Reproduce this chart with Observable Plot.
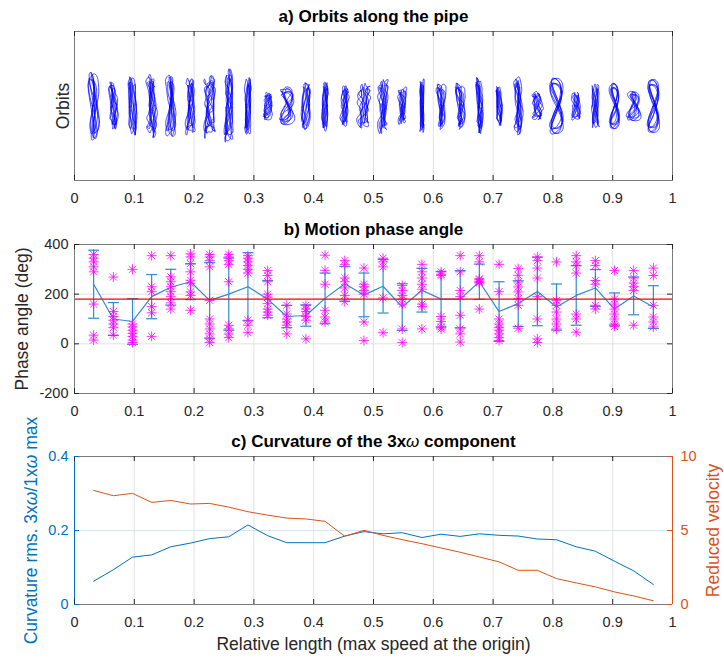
<!DOCTYPE html>
<html>
<head>
<meta charset="utf-8">
<script src="https://cdn.jsdelivr.net/npm/d3@7"></script>
<script src="https://cdn.jsdelivr.net/npm/@observablehq/plot@0.6"></script>
<style>
  body { margin: 0; background: #fff; }
  #chart { position: relative; width: 724px; height: 659px; background: #fff; }
  #chart svg { position: absolute; left: 0; }
</style>
</head>
<body>
<div id="chart"></div>
<script>
// ---- measurement stations along the pipe (relative length) ----
const stations = [0.032, 0.065, 0.097, 0.129, 0.161, 0.194, 0.226, 0.258, 0.290, 0.323,
                  0.355, 0.387, 0.419, 0.452, 0.484, 0.516, 0.548, 0.581, 0.613, 0.645,
                  0.677, 0.710, 0.742, 0.774, 0.806, 0.839, 0.871, 0.903, 0.935, 0.968];
const xTicks = [0, 0.1, 0.2, 0.3, 0.4, 0.5, 0.6, 0.7, 0.8, 0.9, 1];

// ---- a) orbit envelope per station ----
const orbitHalfHeight = [0.46, 0.33, 0.40, 0.44, 0.42, 0.40, 0.44, 0.51, 0.39, 0.19,
                         0.26, 0.33, 0.34, 0.28, 0.31, 0.38, 0.26, 0.38, 0.32, 0.32,
                         0.39, 0.27, 0.40, 0.20, 0.38, 0.19, 0.30, 0.31, 0.20, 0.36];
const orbitHalfWidth = [0.0106, 0.0084, 0.0075, 0.0100, 0.0100, 0.0100, 0.0125, 0.0109, 0.0059, 0.0109,
                        0.0159, 0.0092, 0.0059, 0.0084, 0.0125, 0.0100, 0.0084, 0.0042, 0.0100, 0.0109,
                        0.0075, 0.0059, 0.0092, 0.0117, 0.0125, 0.0100, 0.0067, 0.0100, 0.0142, 0.0109];
const orbitPinch = [0.5, 0.2, 0.0, 0.2, 0.5, 0.3, 0.1, 0.3, 0.0, 0.3,
                    0.7, 0.1, 0.0, 0.2, 0.1, 0.2, 0.2, 0.0, 0.5, 0.5,
                    0.4, 0.1, 0.5, 0.2, 0.9, 0.3, 0.0, 0.8, 0.6, 0.9];
const orbitRough = [0.2, 0.6, 0.3, 0.7, 0.2, 0.5, 0.9, 0.7, 0.4, 0.6,
                    0.4, 0.4, 0.5, 0.6, 0.7, 0.7, 0.6, 0.6, 0.5, 0.6,
                    0.6, 0.4, 0.5, 0.7, 0.1, 0.3, 0.3, 0.2, 0.2, 0.1];

// ---- b) motion phase angle (deg) ----
const phaseTicks = [-200, 0, 200, 400];
const phaseRef = 180;
const phaseMean = [240, 100, 90, 190, 228, 250, 175, 200, 230, 180,
                   110, 114, 183, 242, 197, 232, 148, 216, 180, 180,
                   250, 130, 162, 211, 148, 195, 225, 140, 193, 148];
const phaseStd = [137, 66, 92, 89, 72, 72, 152, 145, 137, 75,
                  45, 43, 102, 70, 88, 108, 94, 88, 112, 115,
                  71, 120, 92, 138, 93, 120, 74, 65, 76, 86];
const phaseSamples = [
  [360, 345, 330, 310, 290, 160, 35, 15],
  [269, 130, 110, 95, 80, 65, 35],
  [300, 80, 68, 55, 42, 30, 15, 5],
  [355, 230, 210, 150, 125, 30],
  [355, 270, 250, 230, 210, 190, 165, 140],
  [362, 350, 323, 290, 256, 242, 209, 195, 135],
  [360, 350, 335, 310, 175, 100, 80, 60, 40, 20, 5],
  [360, 350, 335, 320, 250, 75, 60, 40, 25],
  [355, 345, 330, 315, 300, 285, 95, 75, 45],
  [295, 275, 250, 200, 188, 162, 140, 128, 115],
  [155, 120, 100, 88, 75, 40],
  [155, 140, 130, 110, 95, 20],
  [357, 296, 240, 135, 108, 88],
  [335, 320, 265, 250, 225, 195, 170],
  [305, 240, 230, 215, 200, 88, 13],
  [345, 330, 310, 185, 45],
  [235, 215, 195, 180, 160, 60, 5],
  [320, 290, 265, 240, 220, 160, 150, 60],
  [290, 280, 275, 110, 90, 67, 60],
  [355, 290, 215, 190, 115, 60, 40, 7],
  [355, 330, 262, 258, 252, 248, 245, 140],
  [320, 210, 100, 80, 65, 55, 40, 25, 13],
  [303, 276, 249, 229, 209, 182, 155, 63],
  [350, 335, 305, 265, 190, 100, 20, 5],
  [330, 175, 155, 128, 100, 80, 60],
  [355, 330, 315, 285, 120, 100, 47],
  [335, 315, 255, 240, 155, 140],
  [295, 180, 160, 140, 120, 100, 80, 70],
  [295, 265, 245, 230, 215, 75],
  [305, 275, 155, 108, 88, 68]
];

// ---- c) curvature of the 3xω component and reduced velocity ----
const curvTicks = [0, 0.2, 0.4];
const velTicks = [0, 5, 10];
const curvature = [0.063, 0.094, 0.128, 0.134, 0.156, 0.166, 0.178, 0.183, 0.215, 0.186,
                   0.167, 0.167, 0.167, 0.185, 0.197, 0.191, 0.194, 0.181, 0.190, 0.184,
                   0.191, 0.187, 0.185, 0.177, 0.175, 0.156, 0.144, 0.117, 0.091, 0.054];
const reducedVelocity = [7.71, 7.35, 7.51, 6.90, 7.03, 6.79, 6.83, 6.58, 6.27, 6.04,
                         5.84, 5.78, 5.62, 4.61, 5.01, 4.67, 4.38, 4.11, 3.82, 3.53,
                         3.21, 2.88, 2.31, 2.31, 1.75, 1.46, 1.19, 0.85, 0.58, 0.25];

// ---- layout & styling ----
const W = 724, ML = 74, MR = 52, PW = W - ML - MR;
const FONT = "'Liberation Sans', Arial, Helvetica, sans-serif";
const ink = "#262626", frameGray = "#7a7a7a", gridGray = "#e2e2e2";
const blue = "#0072BD", orange = "#D95319", errBlue = "#2f8bd0";
const style = {fontFamily: FONT, fontSize: "14.5px", background: "transparent", overflow: "visible"};
const fmt = d => (d < 0 ? "-" : "") + String(+Math.abs(d).toFixed(2));

// eight-armed asterisk marker and a flat error-bar cap
const asterisk = {draw(ctx, size) {
  const r = Math.sqrt(size / Math.PI);
  for (const a of [0, Math.PI / 4, Math.PI / 2, 3 * Math.PI / 4]) {
    const c = Math.cos(a) * r, s = Math.sin(a) * r;
    ctx.moveTo(c, s); ctx.lineTo(-c, -s);
  }
}};
const cap = {draw(ctx, size) {
  const r = Math.sqrt(size / Math.PI);
  ctx.moveTo(-r, 0); ctx.lineTo(r, 0);
}};

// inward tick marks on the frame edges
function ticksX(values, h, color) {
  return [
    Plot.ruleX(values, {x: d => d, insetTop: h - 5, stroke: color}),
    Plot.ruleX(values, {x: d => d, insetBottom: h - 5, stroke: color})
  ];
}
function ticksYLeft(values, color) {
  return Plot.ruleY(values, {y: d => d, insetRight: PW - 5, stroke: color});
}
function ticksYRight(values, color) {
  return Plot.ruleY(values, {y: d => d, insetLeft: PW - 5, stroke: color});
}
const title = (s) => Plot.text([s], {frameAnchor: "top", lineAnchor: "middle", dy: -15, fontWeight: "bold", fontSize: 17, fill: "#000"});
const ylabel = (s, side, dx, color) => Plot.text([s], {frameAnchor: side, textAnchor: "middle", lineAnchor: "middle", dx, rotate: -90, fontSize: 17.5, fill: color});

// traced orbit loops around each station
function traceOrbit(i) {
  const cx = stations[i], hw = orbitHalfWidth[i], hh = orbitHalfHeight[i];
  const f = orbitPinch[i], r = orbitRough[i];
  const rows = [];
  for (let j = 0; j < 6; j++) {
    const sx = 1 - 0.12 * (j % 3), sy = 1 - 0.09 * ((j * 2) % 4), ph = 0.7 * j + 0.3 * i;
    for (let n = 0; n <= 120; n++) {
      const t = n / 120 * 2 * Math.PI;
      const bx = (1 - f) * Math.cos(t + ph) + f * Math.sin(2 * t + 0.15 * j);
      const nx = r * (0.35 * Math.sin(4 * t + 1.3 * j + i) + 0.22 * Math.sin(7 * t + 2.1 * j + 0.7 * i));
      const ny = r * (0.14 * Math.sin(3 * t + 0.8 * j + i) + 0.08 * Math.sin(6 * t + 1.7 * j));
      rows.push({
        id: i * 10 + j,
        x: cx + hw * sx * (bx + nx) / (1 + 0.57 * r),
        y: hh * sy * (Math.sin(t) + ny) / (1 + 0.22 * r)
      });
    }
  }
  return rows;
}
const orbitRows = stations.flatMap((_, i) => traceOrbit(i));

const phaseRows = stations.map((x, i) => ({
  x, mean: phaseMean[i], lo: phaseMean[i] - phaseStd[i], hi: phaseMean[i] + phaseStd[i]
}));
const sampleRows = stations.flatMap((x, i) => phaseSamples[i].map(v => ({x, v})));
const curveRows = stations.map((x, i) => ({x, c: curvature[i], v: reducedVelocity[i]}));

const chart = document.getElementById("chart");
function place(svg, top) { svg.style.top = top + "px"; chart.appendChild(svg); return svg; }

// ---- a) Orbits along the pipe ----
place(Plot.plot({
  width: W, height: 205, marginTop: 31, marginBottom: 25, marginLeft: ML, marginRight: MR,
  style: {...style, background: "#fff"},
  x: {domain: [0, 1]}, y: {domain: [-1, 1], axis: null},
  marks: [
    Plot.ruleX(xTicks.slice(1, -1), {stroke: gridGray}),
    Plot.line(orbitRows, {x: "x", y: "y", z: "id", stroke: "#0000ff", strokeWidth: 0.85, strokeOpacity: 0.85}),
    Plot.frame({stroke: frameGray}),
    ...ticksX(xTicks, 149, ink),
    Plot.axisX({ticks: xTicks, tickSize: 0, tickPadding: 12, tickFormat: fmt, fill: ink, label: null}),
    title("a) Orbits along the pipe"),
    ylabel("Orbits", "left", -11, ink)
  ]
}), 0);

// ---- b) Motion phase angle ----
place(Plot.plot({
  width: W, height: 215, marginTop: 34, marginBottom: 32, marginLeft: ML, marginRight: MR,
  style: {...style, background: "#fff"},
  x: {domain: [0, 1]}, y: {domain: [-200, 400]},
  marks: [
    Plot.ruleX(xTicks.slice(1, -1), {stroke: gridGray}),
    Plot.ruleY([0, 200], {stroke: gridGray}),
    Plot.ruleX(phaseRows, {x: "x", y1: "lo", y2: "hi", stroke: errBlue, strokeWidth: 1.2}),
    Plot.dot(phaseRows, {x: "x", y: "lo", symbol: cap, r: 5.5, stroke: errBlue, strokeWidth: 1.2, fill: "none"}),
    Plot.dot(phaseRows, {x: "x", y: "hi", symbol: cap, r: 5.5, stroke: errBlue, strokeWidth: 1.2, fill: "none"}),
    Plot.line(phaseRows, {x: "x", y: "mean", stroke: errBlue, strokeWidth: 1.2}),
    Plot.dot(sampleRows, {x: "x", y: "v", symbol: asterisk, r: 5, stroke: "#ff00ff", strokeWidth: 1, strokeOpacity: 0.8, fill: "none"}),
    Plot.ruleY([phaseRef], {stroke: "#ff0000", strokeWidth: 1.2}),
    Plot.frame({stroke: frameGray}),
    ...ticksX(xTicks, 149, ink),
    ticksYLeft(phaseTicks, ink),
    ticksYRight(phaseTicks, ink),
    Plot.axisX({ticks: xTicks, tickSize: 0, tickPadding: 12, tickFormat: fmt, fill: ink, label: null}),
    Plot.axisY({ticks: phaseTicks, tickSize: 0, tickPadding: 6, tickFormat: fmt, fill: ink, label: null}),
    title("b) Motion phase angle"),
    ylabel("Phase angle (deg)", "left", -52, ink)
  ]
}), 210);

// ---- c) Curvature of the 3xω component (left axis) ----
const svgC = place(Plot.plot({
  width: W, height: 239, marginTop: 36, marginBottom: 55, marginLeft: ML, marginRight: MR,
  style: {...style, background: "#fff"},
  x: {domain: [0, 1]}, y: {domain: [0, 0.4]},
  marks: [
    Plot.ruleX(xTicks.slice(1, -1), {stroke: gridGray}),
    Plot.ruleY([0.2], {stroke: "#d6e7f4"}),
    Plot.line(curveRows, {x: "x", y: "c", stroke: blue, strokeWidth: 1}),
    Plot.ruleY([0, 0.4], {stroke: frameGray}),
    Plot.ruleX([0], {stroke: blue}),
    ...ticksX(xTicks, 148, ink),
    ticksYLeft(curvTicks, blue),
    Plot.axisX({ticks: xTicks, tickSize: 0, tickPadding: 12, tickFormat: fmt, fill: ink, label: null}),
    Plot.axisY({ticks: curvTicks, tickSize: 0, tickPadding: 6, tickFormat: fmt, fill: blue, label: null}),
    title("c) Curvature of the 3xω component"),
    Plot.text(["Relative length (max speed at the origin)"], {frameAnchor: "bottom", lineAnchor: "middle", dy: 39.5, fontSize: 17.5, fill: ink}),
    ylabel("Curvature rms. 3xω/1xω max", "left", -43, blue)
  ]
}), 420);

// ---- c) Reduced velocity (right axis, overlaid) ----
const svgC2 = place(Plot.plot({
  width: W, height: 239, marginTop: 36, marginBottom: 55, marginLeft: ML, marginRight: MR,
  style,
  x: {domain: [0, 1], axis: null}, y: {domain: [0, 10]},
  marks: [
    Plot.line(curveRows, {x: "x", y: "v", stroke: orange, strokeWidth: 1}),
    Plot.ruleX([1], {stroke: orange}),
    ticksYRight(velTicks, orange),
    Plot.axisY({anchor: "right", ticks: velTicks, tickSize: 0, tickPadding: 8, tickFormat: fmt, fill: orange, label: null}),
    ylabel("Reduced velocity", "right", 41, orange)
  ]
}), 420);
svgC2.style.pointerEvents = "none";

// set ω in italic, as in TeX-style labels
for (const svg of [svgC, svgC2]) {
  svg.querySelectorAll("text").forEach(t => {
    if (t.children.length === 0 && t.textContent.includes("ω")) {
      const parts = t.textContent.split("ω");
      t.textContent = "";
      parts.forEach((p, k) => {
        if (k > 0) {
          const ts = document.createElementNS("http://www.w3.org/2000/svg", "tspan");
          ts.setAttribute("font-style", "italic");
          ts.setAttribute("font-weight", "normal");
          ts.textContent = "ω";
          t.appendChild(ts);
        }
        t.appendChild(document.createTextNode(p));
      });
    }
  });
}
</script>
</body>
</html>
